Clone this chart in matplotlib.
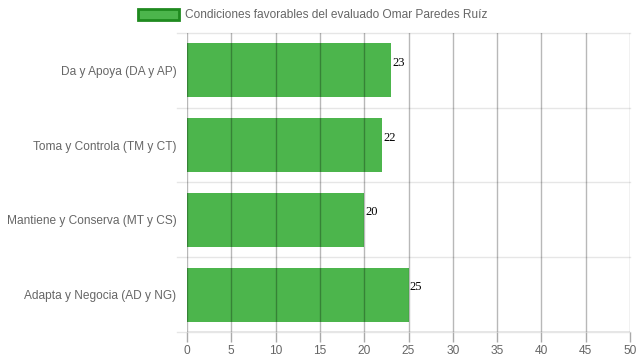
import matplotlib
matplotlib.use("Agg")
import matplotlib.pyplot as plt
from matplotlib.patches import Rectangle

categories = ["Da y Apoya (DA y AP)", "Toma y Controla (TM y CT)",
              "Mantiene y Conserva (MT y CS)", "Adapta y Negocia (AD y NG)"]
values = [23, 22, 20, 25]
xticks = [0, 5, 10, 15, 20, 25, 30, 35, 40, 45, 50]
legend_label = "Condiciones favorables del evaluado Omar Paredes Ruíz"

W, H = 639, 360
FS = 8.6
fig = plt.figure(figsize=(W / 100, H / 100), dpi=100)
ax = fig.add_axes([187 / W, (H - 332) / H, (630 - 187) / W, (332 - 33) / H])

n = len(categories)
ypos = list(range(n))
ax.barh(ypos, values, height=0.72, color="#4cb54c", zorder=1)
ax.set_ylim(n - 0.5, -0.5)
ax.set_xlim(0, 50)
ax.set_xticks(xticks)
ax.set_xticklabels([str(t) for t in xticks])
ax.set_yticks(ypos)
ax.set_yticklabels(categories)

for s in ax.spines.values():
    s.set_visible(False)

# vertical grid lines (drawn above bars)
for t in xticks:
    ax.axvline(t, color="black", alpha=0.28, lw=1, zorder=3)
# horizontal light grid lines at band boundaries
for b in [i - 0.5 for i in range(n + 1)]:
    ax.plot([-0.0225 * 50, 50], [b, b], color="#e6e6e6", lw=1, zorder=0, clip_on=False)
ax.axhline(n - 0.5, color="#999999", lw=1, zorder=3)

ax.tick_params(axis="y", length=0, pad=7.5, labelsize=FS, labelcolor="#666666")
ax.tick_params(axis="x", length=7, width=1, color="#aaaaaa", pad=2, labelsize=FS, labelcolor="#666666")
for lab in ax.get_xticklabels() + ax.get_yticklabels():
    lab.set_fontfamily("Liberation Sans")

for y, v in zip(ypos, values):
    ax.text(v + 0.15, y - 0.02, str(v), ha="left", va="bottom",
            fontsize=9, family="Liberation Serif", color="black", zorder=4)

# legend
fig.patches.append(Rectangle((138 / W, 1 - 20 / H), 41 / W, 11 / H, transform=fig.transFigure,
                             facecolor="#4cb54c", edgecolor="#1f8a1f", lw=2))
fig.text(185 / W, 1 - 14.5 / H, legend_label, ha="left", va="center", fontsize=FS,
         family="Liberation Sans", color="#666666")

fig.savefig("out.png", dpi=100)
